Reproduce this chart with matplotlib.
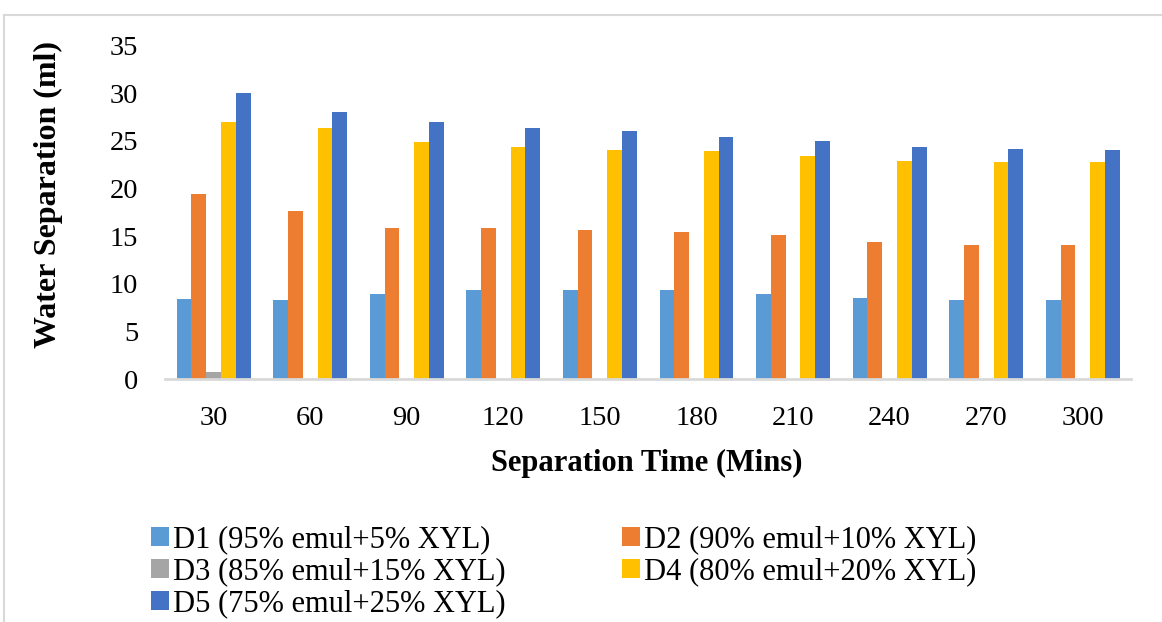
import numpy as np
import matplotlib.pyplot as plt
from matplotlib.lines import Line2D

plt.rcParams['font.family'] = ['Liberation Serif', 'DejaVu Serif']

times = ['30', '60', '90', '120', '150', '180', '210', '240', '270', '300']
d1 = [8.4, 8.3, 8.9, 9.4, 9.4, 9.4, 8.9, 8.5, 8.3, 8.3]
d2 = [19.4, 17.7, 15.9, 15.9, 15.7, 15.5, 15.1, 14.4, 14.1, 14.1]
d3 = [0.8, 0, 0, 0, 0, 0, 0, 0, 0, 0]
d4 = [27.0, 26.4, 24.9, 24.4, 24.0, 23.9, 23.4, 22.9, 22.8, 22.8]
d5 = [30.0, 28.0, 27.0, 26.4, 26.0, 25.4, 25.0, 24.4, 24.2, 24.1]

labels = ['D1 (95% emul+5% XYL)', 'D2 (90% emul+10% XYL)', 'D3 (85% emul+15% XYL)',
          'D4 (80% emul+20% XYL)', 'D5 (75% emul+25% XYL)']
colors = ['#5B9BD5', '#ED7D31', '#A5A5A5', '#FFC000', '#4472C4']
series = [d1, d2, d3, d4, d5]

fig = plt.figure(figsize=(11.62, 6.22), dpi=100)
ax = fig.add_axes([0.1423, 0.3902, 0.8310, 0.5365])

x = np.arange(len(times))
w = 0.153
bars = []
for i, (vals, c, lab) in enumerate(zip(series, colors, labels)):
    b = ax.bar(x + (i - 2) * w, vals, w, color=c, label=lab, linewidth=0)
    bars.append(b)

ax.set_xlim(-0.5, len(times) - 0.5)
ax.set_ylim(0, 35)
ax.set_yticks(range(0, 36, 5))
ax.set_xticks(x)
ax.set_xticklabels(times)
ax.tick_params(axis='both', length=0, labelsize=20.5, colors='black')
ax.tick_params(axis='x', pad=19)
ax.tick_params(axis='y', pad=19.5)
for s in ['top', 'right', 'left']:
    ax.spines[s].set_visible(False)
ax.spines['bottom'].set_color('#D9D9D9')
ax.spines['bottom'].set_linewidth(2)

fig.text(0.042, 1 - 195 / 622, 'Water Separation (ml)', rotation=90, fontsize=23,
         fontweight='bold', ha='center', va='center')
fig.text(647 / 1162, 1 - 463 / 622, 'Separation Time (Mins)', fontsize=22,
         fontweight='bold', ha='center', va='center')

# legend filled row by row: D1 D2 / D3 D4 / D5
order = [0, 2, 4, 1, 3]
fig.legend([bars[i] for i in order], [labels[i] for i in order], ncol=2,
           loc='upper left', bbox_to_anchor=(151 / 1162, 1 - 525 / 622),
           frameon=False, fontsize=22, handlelength=0.6, handleheight=0.6,
           handletextpad=0.12, columnspacing=3.8, labelspacing=0.1,
           borderaxespad=0, borderpad=0)

# light outer frame
fig.add_artist(Line2D([4 / 1162, 1], [1 - 15 / 622, 1 - 15 / 622], color='#D9D9D9', lw=1.5))
fig.add_artist(Line2D([4 / 1162, 4 / 1162], [0, 1 - 15 / 622], color='#D9D9D9', lw=1.5))

fig.savefig('out.png', dpi=100)
